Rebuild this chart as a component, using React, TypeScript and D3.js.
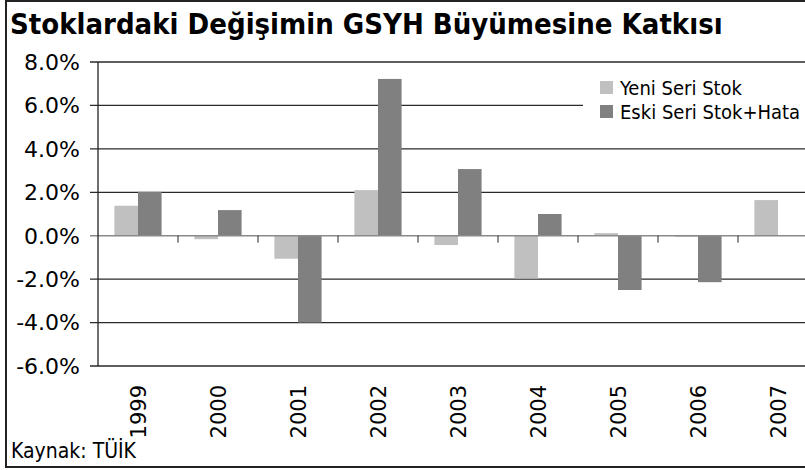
import React from "react";
import * as d3 from "d3";

const years = ["1999", "2000", "2001", "2002", "2003", "2004", "2005", "2006", "2007"];
const yeniSeri = [1.38, -0.16, -1.06, 2.1, -0.43, -1.97, 0.12, -0.05, 1.64];
const eskiSeri = [2.02, 1.18, -4.0, 7.22, 3.07, 1.0, -2.5, -2.14, 0];
const yTicks = [-6, -4, -2, 0, 2, 4, 6, 8];
const seriesNames = ["Yeni Seri Stok", "Eski Seri Stok+Hata"];
const colors = ["#c0c0c0", "#808080"];

const width = 805;
const height = 470;
const margin = { top: 62, left: 98, bottom: 104, right: -13 };
const font = "'DejaVu Sans Condensed', 'DejaVu Sans', sans-serif";
const numFont = "'DejaVu Sans', sans-serif";

const App = () => {
  const x = d3
    .scaleBand()
    .domain(years)
    .range([margin.left, width - margin.right])
    .paddingInner(0.41)
    .paddingOuter(0.205);

  const y = d3
    .scaleLinear()
    .domain([-6, 8])
    .range([height - margin.bottom, margin.top]);

  const inner = d3
    .scaleBand()
    .domain(seriesNames)
    .range([0, x.bandwidth()]);

  const step = x.step();
  const series = [yeniSeri, eskiSeri];

  return (
    <svg
      width={width}
      height={height}
      style={{ position: "absolute", left: 0, top: 0, background: "#fff" }}
    >
      <rect x={6} y={1} width={820} height={466} fill="#fff" stroke="#222" strokeWidth={2} />
      <text x={10} y={34} fontFamily={font} fontWeight="bold" fontSize={29}>
        Stoklardaki Değişimin GSYH Büyümesine Katkısı
      </text>

      {yTicks.map(t => (
        <g key={t}>
          {t !== 0 && (
            <line
              x1={margin.left - 8}
              x2={width}
              y1={y(t)}
              y2={y(t)}
              stroke="#2a2a2a"
              strokeWidth={1.3}
            />
          )}
          <text
            x={80}
            y={y(t)}
            dy="0.36em"
            textAnchor="end"
            fontFamily={numFont}
            fontSize={22}
          >
            {t.toFixed(1) + "%"}
          </text>
        </g>
      ))}

      {years.map((yr, i) => (
        <g key={yr}>
          {series.map((s, j) => {
            const v = s[i];
            if (v === 0) return null;
            return (
              <rect
                key={j}
                x={(x(yr) as number) + (inner(seriesNames[j]) as number)}
                y={y(Math.max(0, v))}
                width={inner.bandwidth()}
                height={Math.abs(y(v) - y(0))}
                fill={colors[j]}
              />
            );
          })}
        </g>
      ))}

      <line x1={margin.left - 8} x2={width} y1={y(0)} y2={y(0)} stroke="#8a8a8a" strokeWidth={1.5} />
      {years.map((yr, i) => (
        <line
          key={yr}
          x1={margin.left + step * (i + 1)}
          x2={margin.left + step * (i + 1)}
          y1={y(0)}
          y2={y(0) + 7}
          stroke="#222"
          strokeWidth={1}
        />
      ))}
      <line x1={margin.left} x2={margin.left} y1={margin.top} y2={y(-6)} stroke="#222" strokeWidth={1.3} />

      {years.map(yr => {
        const cx = (x(yr) as number) + x.bandwidth() / 2;
        return (
          <text
            key={yr}
            transform={`translate(${cx + 8},${385}) rotate(-90)`}
            textAnchor="end"
            fontFamily={numFont}
            fontSize={21}
          >
            {yr}
          </text>
        );
      })}

      <rect x={583} y={70} width={222} height={56} fill="#fff" />
      {seriesNames.map((n, j) => (
        <g key={n} transform={`translate(600,${81 + j * 24})`}>
          <rect width={13} height={13} fill={colors[j]} />
          <text x={20} y={14} fontFamily={font} fontSize={20}>
            {n}
          </text>
        </g>
      ))}

      <text x={11} y={458} fontFamily={font} fontSize={21}>
        Kaynak: TÜİK
      </text>
    </svg>
  );
};

export default App;
